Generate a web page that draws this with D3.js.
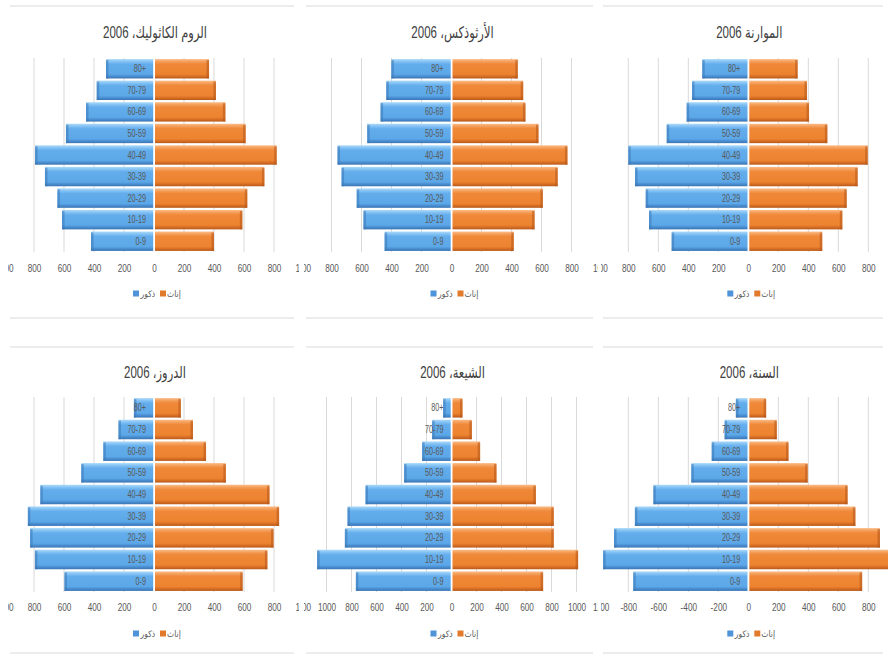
<!DOCTYPE html>
<html>
<head>
<meta charset="utf-8">
<script src="https://cdn.jsdelivr.net/npm/d3@7/dist/d3.min.js"></script>
<style>
  html, body { margin: 0; padding: 0; background: #ffffff; }
  svg { display: block; }
  text { font-family: "Liberation Sans", "DejaVu Sans", sans-serif; }
</style>
</head>
<body>
<svg id="chart" width="888" height="655"></svg>
<script>
// Age groups, bottom to top of each pyramid
const ageGroups = ["0-9", "10-19", "20-29", "30-39", "40-49", "50-59", "60-69", "70-79", "80+"];

// Panel titles
const titles = [
  "الروم الكاثوليك، 2006",
  "الأرثوذكس، 2006",
  "الموارنة 2006",
  "الدروز، 2006",
  "الشيعة، 2006",
  "السنة، 2006"
];

// Population counts per age group (males / females)
const maleCatholic   = [420, 613, 644, 727, 793, 587, 453, 382, 320];
const femaleCatholic = [400, 589, 622, 736, 818, 611, 476, 413, 367];
const maleOrthodox   = [446, 587, 632, 733, 760, 562, 473, 435, 401];
const femaleOrthodox = [415, 554, 609, 708, 773, 580, 493, 478, 442];
const maleMaronite   = [511, 662, 684, 755, 800, 544, 411, 375, 307];
const femaleMaronite = [493, 627, 656, 729, 796, 527, 405, 391, 329];
const maleDruze      = [597, 794, 826, 841, 758, 485, 338, 237, 134];
const femaleDruze    = [591, 756, 797, 834, 770, 479, 347, 260, 179];
const maleShia       = [765, 1075, 853, 832, 688, 379, 235, 155, 67];
const femaleShia     = [733, 1013, 818, 818, 675, 360, 229, 163, 88];
const maleSunni      = [767, 968, 895, 756, 633, 380, 244, 158, 83];
const femaleSunni    = [759, 950, 878, 714, 662, 396, 268, 190, 119];

// Axis extent of each panel and whether its left-hand ticks carry a minus sign
const axisMax     = [1000, 1000, 1000, 1000, 1200, 1000];
const signedTicks = [false, false, false, false, false, true];
const tickStep = 200;

// Legend labels
const legendMale = "ذكور";
const legendFemale = "إناث";

const males   = [maleCatholic, maleOrthodox, maleMaronite, maleDruze, maleShia, maleSunni];
const females = [femaleCatholic, femaleOrthodox, femaleMaronite, femaleDruze, femaleShia, femaleSunni];

const svg = d3.select("#chart");
const defs = svg.append("defs");

// Bevel-like shading for the bars
function barGradient(id, stops) {
  const g = defs.append("linearGradient").attr("id", id)
    .attr("x1", 0).attr("y1", 0).attr("x2", 0).attr("y2", 1);
  stops.forEach(([o, c]) => g.append("stop").attr("offset", o).attr("stop-color", c));
}
barGradient("gMale", [[0, "#addaf9"], [0.14, "#80c0f3"], [0.26, "#63adec"], [0.78, "#5ca7e7"], [0.88, "#4a8fd2"], [1, "#3a75b3"]]);
barGradient("gFemale", [[0, "#fbbd8a"], [0.14, "#f49c56"], [0.26, "#ef8838"], [0.78, "#ec8330"], [0.88, "#d96f24"], [1, "#b85a1b"]]);

const colCx = [154, 451.5, 748.3];
const colClip = [[8, 299], [304, 598], [601, 888]];
const rows = [
  { title: 32, top: 58, bottom: 252, tick: 262, legend: 294, lineTop: 6, lineBottom: 318 },
  { title: 372, top: 397, bottom: 592, tick: 601, legend: 634, lineTop: 347, lineBottom: 653 }
];
const half = 150;
const textGrey = "#595959";

function squeezedText(sel, x, y, str, size, sx, anchor, fill) {
  return sel.append("text")
    .attr("transform", `translate(${x},${y}) scale(${sx},1)`)
    .attr("text-anchor", anchor)
    .attr("font-size", size)
    .attr("fill", fill)
    .text(str);
}

titles.forEach((title, i) => {
  const col = i % 3, row = Math.floor(i / 3);
  const cx = colCx[col];
  const [cx0, cx1] = colClip[col];
  const r = rows[row];
  const max = axisMax[i];

  defs.append("clipPath").attr("id", "clip" + i)
    .append("rect").attr("x", cx0).attr("y", 0).attr("width", cx1 - cx0).attr("height", 655);

  const g = svg.append("g").attr("clip-path", `url(#clip${i})`);

  // chart frame edges
  g.append("line").attr("x1", cx0 + 2).attr("x2", cx1 - 5).attr("y1", r.lineTop).attr("y2", r.lineTop)
    .attr("stroke", "#d9d9d9").attr("stroke-width", 1.2);
  g.append("line").attr("x1", cx0 + 2).attr("x2", cx1 - 5).attr("y1", r.lineBottom).attr("y2", r.lineBottom)
    .attr("stroke", "#d9d9d9").attr("stroke-width", 1.2);

  const x = d3.scaleLinear().domain([-max, max]).range([cx - half, cx + half]);
  const y = d3.scaleBand().domain(ageGroups.slice().reverse())
    .range([r.top, r.bottom]).paddingInner(0.1).paddingOuter(0.05);

  const ticks = d3.range(-max, max + 1, tickStep);

  // vertical gridlines
  g.append("g").selectAll("line").data(ticks.filter(t => t !== 0)).join("line")
    .attr("x1", d => x(d)).attr("x2", d => x(d))
    .attr("y1", r.top).attr("y2", r.bottom)
    .attr("stroke", "#d9d9d9").attr("stroke-width", 1);

  // bottom axis labels
  const axis = d3.axisBottom(x).tickValues(ticks).tickSize(0)
    .tickFormat(d => signedTicks[i] ? String(d) : String(Math.abs(d)));
  const ag = g.append("g").attr("transform", `translate(0,${r.tick})`).call(axis);
  ag.select(".domain").remove();
  ag.selectAll("text").attr("font-size", 10).attr("fill", textGrey)
    .attr("font-family", "Liberation Sans, sans-serif")
    .attr("transform", "scale(0.82,1)");

  const data = ageGroups.map((a, k) => ({ age: a, m: males[i][k], f: females[i][k] }));

  // male bars (left)
  g.append("g").selectAll("rect").data(data).join("rect")
    .attr("x", d => x(-d.m)).attr("width", d => x(0) - 0.8 - x(-d.m))
    .attr("y", d => y(d.age)).attr("height", y.bandwidth())
    .attr("fill", "url(#gMale)");
  g.append("g").selectAll("rect").data(data).join("rect")
    .attr("x", d => x(-d.m)).attr("width", 2.5)
    .attr("y", d => y(d.age) + 1).attr("height", y.bandwidth() - 1)
    .attr("fill", "#3c78b6").attr("opacity", 0.55);

  // female bars (right)
  g.append("g").selectAll("rect").data(data).join("rect")
    .attr("x", x(0) + 1).attr("width", d => x(d.f) - x(0) - 1)
    .attr("y", d => y(d.age)).attr("height", y.bandwidth())
    .attr("fill", "url(#gFemale)");
  g.append("g").selectAll("rect").data(data).join("rect")
    .attr("x", d => x(d.f) - 2.5).attr("width", 2.5)
    .attr("y", d => y(d.age) + 1).attr("height", y.bandwidth() - 1)
    .attr("fill", "#b4561a").attr("opacity", 0.55);

  // age group labels near the centre
  data.forEach(d => {
    squeezedText(g, cx - 8, y(d.age) + y.bandwidth() / 2 + 3.5, d.age, 10, 0.72, "end", textGrey);
  });

  // title
  squeezedText(g, cx + 1, r.title + 6, title, 16, 0.72, "middle", "#404040")
    .attr("font-family", "Liberation Sans, DejaVu Sans, sans-serif");

  // legend
  const ly = r.legend;
  g.append("rect").attr("x", cx - 21).attr("y", ly - 3.5).attr("width", 6).attr("height", 6).attr("fill", "#4f93d8");
  squeezedText(g, cx - 13.5, ly + 3, legendMale, 9, 0.85, "start", textGrey);
  g.append("rect").attr("x", cx + 6).attr("y", ly - 3.5).attr("width", 6).attr("height", 6).attr("fill", "#e27a2b");
  squeezedText(g, cx + 13, ly + 3, legendFemale, 9, 0.85, "start", textGrey);
});
</script>
</body>
</html>
